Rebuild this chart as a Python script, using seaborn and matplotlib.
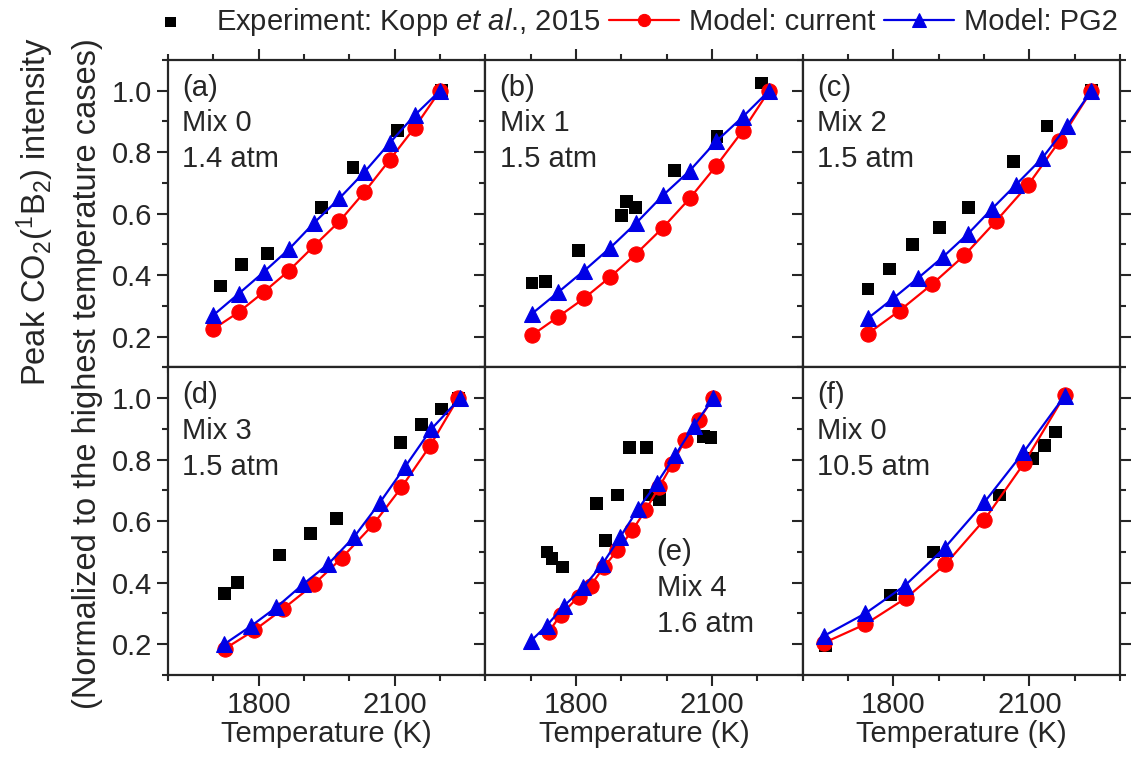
import matplotlib
matplotlib.use("Agg")
import matplotlib.pyplot as plt
from matplotlib.ticker import MultipleLocator
import seaborn as sns

# ---------------- data ----------------
panel_tags = ["(a)", "(b)", "(c)", "(d)", "(e)", "(f)"]
mix_labels = ["Mix 0", "Mix 1", "Mix 2", "Mix 3", "Mix 4", "Mix 0"]
pressures = ["1.4 atm", "1.5 atm", "1.5 atm", "1.5 atm", "1.6 atm", "10.5 atm"]

# (a) Mix 0, 1.4 atm
exp_T_a = [1715, 1763, 1819, 1938, 2008, 2106, 2204]
exp_I_a = [0.365, 0.435, 0.47, 0.62, 0.75, 0.87, 1.0]
cur_T_a = [1700, 1756, 1811, 1867, 1922, 1978, 2033, 2089, 2144, 2200]
cur_I_a = [0.225, 0.28, 0.345, 0.415, 0.495, 0.575, 0.67, 0.775, 0.88, 1.0]
pg2_T_a = [1700, 1756, 1811, 1867, 1922, 1978, 2033, 2089, 2144, 2200]
pg2_I_a = [0.27, 0.34, 0.41, 0.485, 0.57, 0.65, 0.735, 0.83, 0.92, 1.0]

# (b) Mix 1, 1.5 atm
exp_T_b = [1703, 1733, 1805, 1901, 1912, 1932, 2017, 2111, 2210]
exp_I_b = [0.375, 0.38, 0.48, 0.595, 0.64, 0.62, 0.74, 0.85, 1.025]
cur_T_b = [1703, 1761, 1818, 1876, 1933, 1992, 2051, 2109, 2168, 2226]
cur_I_b = [0.205, 0.265, 0.325, 0.395, 0.47, 0.555, 0.65, 0.755, 0.87, 1.0]
pg2_T_b = [1703, 1761, 1818, 1876, 1933, 1992, 2051, 2109, 2168, 2226]
pg2_I_b = [0.275, 0.345, 0.415, 0.49, 0.57, 0.66, 0.74, 0.835, 0.915, 1.0]

# (c) Mix 2, 1.5 atm
exp_T_c = [1744, 1791, 1842, 1901, 1965, 2065, 2139, 2237]
exp_I_c = [0.355, 0.42, 0.5, 0.555, 0.62, 0.77, 0.885, 1.0]
cur_T_c = [1744, 1814, 1885, 1957, 2026, 2098, 2166, 2237]
cur_I_c = [0.21, 0.285, 0.37, 0.465, 0.575, 0.695, 0.835, 1.0]
pg2_T_c = [1744, 1800, 1854, 1910, 1965, 2017, 2071, 2128, 2183, 2237]
pg2_I_c = [0.26, 0.325, 0.39, 0.46, 0.535, 0.615, 0.695, 0.78, 0.885, 1.0]

# (d) Mix 3, 1.5 atm
exp_T_d = [1725, 1753, 1846, 1915, 1972, 2113, 2159, 2203, 2240]
exp_I_d = [0.365, 0.4, 0.49, 0.56, 0.61, 0.855, 0.915, 0.965, 1.0]
cur_T_d = [1725, 1790, 1854, 1922, 1983, 2053, 2115, 2178, 2240]
cur_I_d = [0.185, 0.245, 0.315, 0.395, 0.48, 0.59, 0.71, 0.845, 1.0]
pg2_T_d = [1724, 1784, 1839, 1898, 1953, 2011, 2067, 2122, 2181, 2244]
pg2_I_d = [0.2, 0.26, 0.32, 0.395, 0.46, 0.55, 0.66, 0.775, 0.9, 1.0]

# (e) Mix 4, 1.6 atm
exp_T_e = [1736, 1747, 1771, 1845, 1865, 1891, 1918, 1955, 1962, 1984, 2082, 2098]
exp_I_e = [0.5, 0.478, 0.451, 0.658, 0.537, 0.685, 0.84, 0.84, 0.685, 0.67, 0.875, 0.873]
cur_T_e = [1740, 1766, 1806, 1832, 1861, 1891, 1924, 1953, 1983, 2012, 2041, 2071, 2103]
cur_I_e = [0.24, 0.295, 0.355, 0.39, 0.45, 0.505, 0.57, 0.635, 0.71, 0.785, 0.865, 0.93, 1.0]
pg2_T_e = [1700, 1735, 1774, 1816, 1858, 1898, 1937, 1979, 2019, 2060, 2103]
pg2_I_e = [0.21, 0.26, 0.325, 0.385, 0.46, 0.55, 0.64, 0.725, 0.815, 0.91, 1.0]

# (f) Mix 0, 10.5 atm
exp_T_f = [1651, 1793, 1889, 2034, 2108, 2134, 2157, 2181]
exp_I_f = [0.195, 0.36, 0.5, 0.685, 0.805, 0.845, 0.89, 1.0]
cur_T_f = [1648, 1738, 1828, 1915, 2001, 2089, 2178]
cur_I_f = [0.205, 0.265, 0.35, 0.46, 0.605, 0.79, 1.01]
pg2_T_f = [1648, 1738, 1825, 1913, 2001, 2087, 2178]
pg2_I_f = [0.228, 0.3, 0.39, 0.513, 0.662, 0.824, 1.008]

exp_T = [exp_T_a, exp_T_b, exp_T_c, exp_T_d, exp_T_e, exp_T_f]
exp_I = [exp_I_a, exp_I_b, exp_I_c, exp_I_d, exp_I_e, exp_I_f]
cur_T = [cur_T_a, cur_T_b, cur_T_c, cur_T_d, cur_T_e, cur_T_f]
cur_I = [cur_I_a, cur_I_b, cur_I_c, cur_I_d, cur_I_e, cur_I_f]
pg2_T = [pg2_T_a, pg2_T_b, pg2_T_c, pg2_T_d, pg2_T_e, pg2_T_f]
pg2_I = [pg2_I_a, pg2_I_b, pg2_I_c, pg2_I_d, pg2_I_e, pg2_I_f]

exp_label = r"Experiment: Kopp $\mathit{et\ al}$., 2015"
cur_label = "Model: current"
pg2_label = "Model: PG2"

# ---------------- style ----------------
sns.set_style("ticks")
plt.rcParams["font.family"] = ["Liberation Sans", "DejaVu Sans"]
plt.rcParams["mathtext.fontset"] = "custom"
plt.rcParams["mathtext.rm"] = "Liberation Sans"
plt.rcParams["mathtext.it"] = "Liberation Sans:italic"
plt.rcParams["mathtext.bf"] = "Liberation Sans:bold"

RED = "#ff0000"
BLUE = "#0000e6"
FS = 21

fig, axes = plt.subplots(2, 3, figsize=(11.46, 7.59), dpi=100, sharex=True, sharey=True)
fig.subplots_adjust(left=0.1466, right=0.9773, top=0.921, bottom=0.1107, wspace=0, hspace=0)

for k, ax in enumerate(axes.flat):
    r, c = divmod(k, 3)
    sns.scatterplot(x=exp_T[k], y=exp_I[k], marker="s", s=85, color="black",
                    edgecolor="none", ax=ax, zorder=2, label=exp_label)
    sns.lineplot(x=cur_T[k], y=cur_I[k], color=RED, marker="o", markersize=11,
                 markeredgecolor=RED, linewidth=1.6, ax=ax, zorder=3, label=cur_label)
    sns.lineplot(x=pg2_T[k], y=pg2_I[k], color=BLUE, marker="^", markersize=12,
                 markeredgecolor=BLUE, linewidth=1.6, ax=ax, zorder=4, label=pg2_label)
    if ax.get_legend() is not None:
        ax.get_legend().remove()

    ax.set_xlim(1600, 2300)
    ax.set_ylim(0.1, 1.1)
    ax.xaxis.set_major_locator(MultipleLocator(300))
    ax.xaxis.set_minor_locator(MultipleLocator(100))
    ax.yaxis.set_major_locator(MultipleLocator(0.2))
    ax.yaxis.set_minor_locator(MultipleLocator(0.1))
    for sp in ax.spines.values():
        sp.set_visible(True)
        sp.set_linewidth(1.6)
    ax.tick_params(which="both", direction="out", width=1.5, labelsize=FS,
                   top=(r == 0), right=(c == 2), left=True, bottom=True,
                   labelleft=(c == 0), labelbottom=(r == 1),
                   labeltop=False, labelright=False)
    ax.tick_params(which="major", length=8)
    ax.tick_params(which="minor", length=4)
    ax.set_ylabel("")
    if r == 1:
        ax.set_xlabel("Temperature (K)", fontsize=FS, labelpad=1)
    else:
        ax.set_xlabel("")

    txt = f"{panel_tags[k]}\n{mix_labels[k]}\n{pressures[k]}"
    if k == 4:
        ax.text(0.54, 0.445, txt, transform=ax.transAxes, ha="left", va="top",
                fontsize=FS, linespacing=1.35)
    else:
        ax.text(0.045, 0.955, txt, transform=ax.transAxes, ha="left", va="top",
                fontsize=FS, linespacing=1.35)

# y label (two lines, aligned to the top)
fig.text(35 / 1146, 1 - 38 / 759, r"Peak CO$_2$($^1$B$_2$) intensity", rotation=90,
         ha="center", va="top", fontsize=23.5)
fig.text(88 / 1146, 1 - 38 / 759, "(Normalized to the highest temperature cases)",
         rotation=90, ha="center", va="top", fontsize=23.5)

handles, labels = axes[0, 0].get_legend_handles_labels()
fig.legend(handles, labels, loc="center", bbox_to_anchor=(0.547, 1 - 22 / 759), ncol=3,
           frameon=False, fontsize=FS, handlelength=2.4, handletextpad=0.35,
           columnspacing=0.3, borderpad=0, markerscale=0.8)

fig.savefig("out.png", dpi=100)
